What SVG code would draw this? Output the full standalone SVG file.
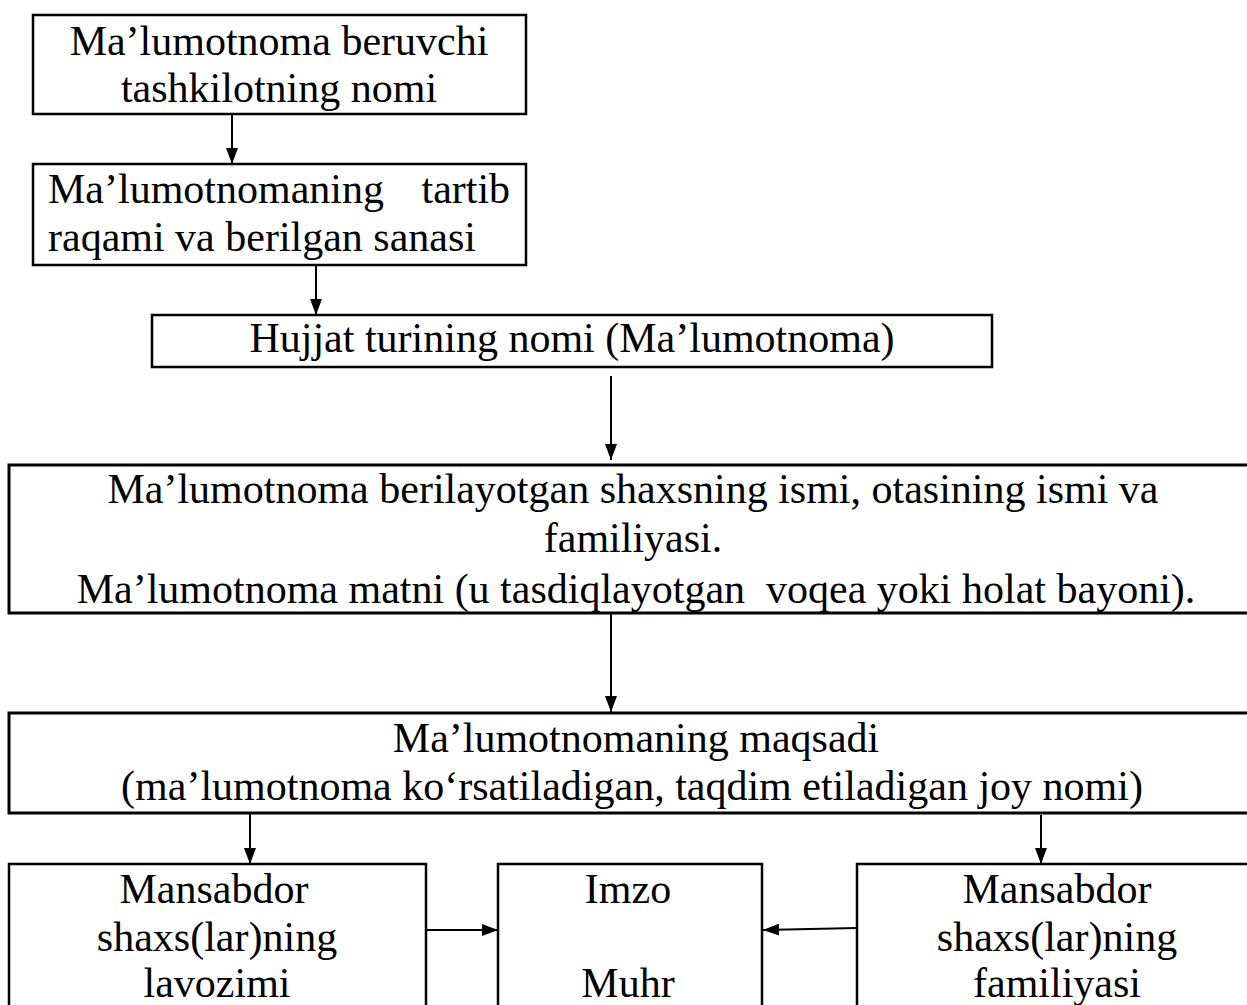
<svg xmlns="http://www.w3.org/2000/svg" width="1247" height="1005" viewBox="0 0 1247 1005">
<style>
.box{fill:#fff;stroke:#000;stroke-width:2.5}
.thick{stroke-width:3}
text{font-family:"Liberation Serif","Times New Roman",serif;font-size:42px;fill:#000}
.c{text-anchor:middle}
.conn line{stroke:#000;stroke-width:2}
</style>
<defs>
<marker id="ah" markerWidth="16" markerHeight="12" refX="16" refY="6" orient="auto" markerUnits="userSpaceOnUse">
<path d="M0,0 L16,6 L0,12 z" fill="#000"/>
</marker>
</defs>
<rect width="1247" height="1005" fill="#fff"/>
<g id="n1">
<rect class="box" x="33" y="15" width="493" height="99"/>
<text class="c" x="279" y="55">Ma’lumotnoma beruvchi</text>
<text class="c" x="279" y="102">tashkilotning nomi</text>
</g>
<g id="n2">
<rect class="box" x="33" y="164" width="493" height="101"/>
<text x="48" y="203" style="word-spacing:27px">Ma’lumotnomaning tartib</text>
<text x="48" y="251">raqami va berilgan sanasi</text>
</g>
<g id="n3">
<rect class="box" x="152" y="315" width="840" height="52"/>
<text class="c" x="572" y="352">Hujjat turining nomi (Ma’lumotnoma)</text>
</g>
<g id="n4">
<rect class="box thick" x="9" y="465" width="1248" height="148"/>
<text class="c" x="633" y="503">Ma’lumotnoma berilayotgan shaxsning ismi, otasining ismi va</text>
<text class="c" x="633" y="552">familiyasi.</text>
<text class="c" x="636" y="603" xml:space="preserve">Ma’lumotnoma matni (u tasdiqlayotgan  voqea yoki holat bayoni).</text>
</g>
<g id="n5">
<rect class="box thick" x="9" y="713" width="1248" height="100"/>
<text class="c" x="636" y="752">Ma’lumotnomaning maqsadi</text>
<text class="c" x="632" y="800">(ma’lumotnoma ko‘rsatiladigan, taqdim etiladigan joy nomi)</text>
</g>
<g id="n6">
<rect class="box" x="9" y="864" width="417" height="160"/>
<text class="c" x="214" y="903">Mansabdor</text>
<text class="c" x="217" y="951">shaxs(lar)ning</text>
<text class="c" x="217" y="997">lavozimi</text>
</g>
<g id="n7">
<rect class="box" x="498" y="864" width="264" height="160"/>
<text class="c" x="628" y="903">Imzo</text>
<text class="c" x="628" y="997">Muhr</text>
</g>
<g id="n8">
<rect class="box" x="857" y="864" width="400" height="160"/>
<text class="c" x="1057" y="903">Mansabdor</text>
<text class="c" x="1057" y="951">shaxs(lar)ning</text>
<text class="c" x="1057" y="997">familiyasi</text>
</g>
<g id="connectors" class="conn">
<line x1="232" y1="114" x2="232" y2="164" marker-end="url(#ah)"/>
<line x1="316" y1="265" x2="316" y2="315" marker-end="url(#ah)"/>
<line x1="611" y1="376" x2="611" y2="460" marker-end="url(#ah)"/>
<line x1="611" y1="614" x2="611" y2="712" marker-end="url(#ah)"/>
<line x1="250" y1="813" x2="250" y2="864" marker-end="url(#ah)"/>
<line x1="1041" y1="815" x2="1041" y2="864" marker-end="url(#ah)"/>
<line x1="426" y1="930" x2="498" y2="930" marker-end="url(#ah)"/>
<line x1="857" y1="928" x2="763" y2="930" marker-end="url(#ah)"/>
</g>
</svg>
